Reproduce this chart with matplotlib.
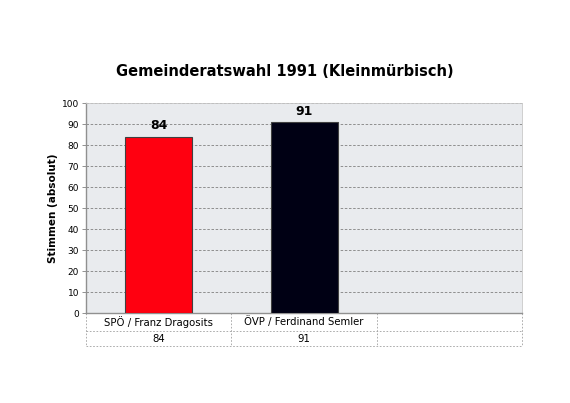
import matplotlib.pyplot as plt
import matplotlib.transforms as mtransforms

categories = ['SPÖ / Franz Dragosits', 'ÖVP / Ferdinand Semler']
votes = [84, 91]
colors = ['#ff0010', '#000014']
yticks = list(range(0, 101, 10))

fig = plt.figure(figsize=(5.7, 4.03), dpi=100)
ax = fig.add_axes([0.151, 0.2233, 0.765, 0.521])
ax.set_facecolor('#e9ebee')

xs = list(range(len(categories)))
ax.bar(xs, votes, width=0.46, color=colors, edgecolor='#404040', linewidth=0.8, zorder=3)
for x, v in zip(xs, votes):
    ax.text(x, v + 2, str(v), ha='center', va='bottom', fontsize=9, fontweight='bold', zorder=4)

ax.set_xlim(-0.5, 2.5)
ax.set_ylim(0, 100)
ax.set_yticks(yticks)
ax.set_yticklabels([str(t) for t in yticks], fontsize=6.5)
ax.set_xticks([])
ax.yaxis.grid(True, linestyle=(0, (3, 2)), color='#808080', linewidth=0.6, zorder=0)
ax.tick_params(axis='y', length=3, width=0.6, color='#808080', pad=2)
for s in ['left', 'bottom']:
    ax.spines[s].set_color('#909090')
    ax.spines[s].set_linewidth(1.0)
for s in ['top', 'right']:
    ax.spines[s].set_color('#c8c8c8')
    ax.spines[s].set_linewidth(0.6)

ax.set_ylabel('Stimmen (absolut)', fontsize=7.5, fontweight='bold', labelpad=3)

# data table below the chart
trans = mtransforms.blended_transform_factory(ax.transData, ax.transAxes)
row1, row2 = -0.086, -0.157
for xv in [-0.5, 0.5, 1.5, 2.5]:
    ax.plot([xv, xv], [0, row2], transform=trans, clip_on=False,
            color='#a0a0a0', linestyle=(0, (2, 2)), linewidth=0.6)
for yv in [row1, row2]:
    ax.plot([-0.5, 2.5], [yv, yv], transform=trans, clip_on=False,
            color='#a0a0a0', linestyle=(0, (2, 2)), linewidth=0.6)
for x, c, v in zip(xs, categories, votes):
    ax.text(x, row1 / 2, c, transform=trans, ha='center', va='center', fontsize=7.3)
    ax.text(x, (row1 + row2) / 2, str(v), transform=trans, ha='center', va='center', fontsize=7.3)

fig.text(0.5, 0.822, 'Gemeinderatswahl 1991 (Kleinmürbisch)', ha='center', va='center',
         fontsize=10.5, fontweight='bold')

fig.savefig('out.png', dpi=100)
